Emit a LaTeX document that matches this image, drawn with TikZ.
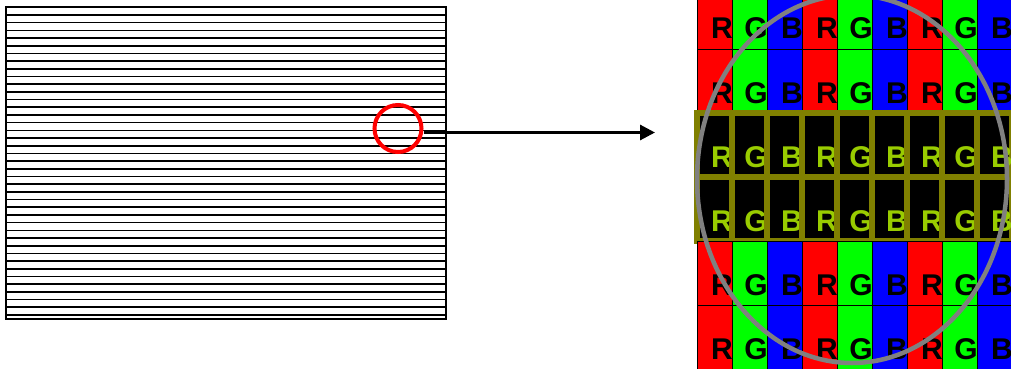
\documentclass[tikz,border=0pt]{standalone}
\usepackage{fontspec}
\setmainfont{Liberation Sans}
\usetikzlibrary{%
  arrows.meta,
}
\definecolor{olivebar}{RGB}{128,128,0}
\definecolor{limetext}{RGB}{153,204,0}

\begin{document}
\begin{tikzpicture}[
    x=1pt, y=-1pt,
    frame/.style={
      % outline of the screen
      draw=black,
      line width=2pt,
    },
    scanline/.style={
      draw=black,
      line width=1.6pt,
    },
    spot/.style={
      % the red circle that marks the zoomed place
      circle,
      minimum size=47pt,
      inner sep=0pt,
      draw=red,
      line width=4pt,
    },
    link/.style={
      -{Triangle[length=15pt,width=15pt]},
      line width=3pt,
    },
    subpixel/.style={
      draw=black,
      line width=0.8pt,
    },
    bandcell/.style={
      % the lit band: black cells, olive grid
      draw=olivebar,
      line width=6pt,
      fill=black,
    },
    letter/.style={
      font=\bfseries\fontsize{30}{30}\selectfont,
      inner sep=0pt,
      anchor=base east,
    },
    lens/.style={
      draw=black!50,
      line width=4.5pt,
    },
  ]

  \useasboundingbox (0,0) rectangle (1011,369);

  % the screen with its scan lines
  \foreach \k in {0,...,39}
    \draw[scanline] (6,{15+7.69*\k}) -- (446,{15+7.69*\k});
  \draw[frame] (6,7) rectangle (446,319);

  \node[spot] (spot) at (398,128.5) {};
  \coordinate (panel) at (655,132.5);
  \draw[link] ([yshift=-4pt]spot.east) -- (panel);

  % the magnified subpixels
  \begin{scope}
    \clip (0,0) rectangle (1011,369);
    \foreach \r in {0,...,5} {
      \foreach \c/\col/\ltr in {0/red/R,1/green/G,2/blue/B,3/red/R,4/green/G,
                                5/blue/B,6/red/R,7/green/G,8/blue/B} {
        \pgfmathsetmacro{\xl}{697+35*\c}
        \pgfmathsetmacro{\yt}{-15+64*\r}
        \ifnum\r=2 \def\lit{1}\else\ifnum\r=3 \def\lit{1}\else\def\lit{0}\fi\fi
        \ifnum\lit=1
          \draw[bandcell] (\xl,\yt) rectangle ++(35,64);
          \node[letter, text=limetext] (l-\r-\c) at (\xl+36,\yt+54) {\ltr};
        \else
          \draw[subpixel, fill=\col] (\xl,\yt) rectangle ++(35,64);
          \node[letter, text=black] (l-\r-\c) at (\xl+36,\yt+54) {\ltr};
        \fi
      }
    }
    \draw[lens] (852,179) ellipse [x radius=155pt, y radius=184pt];
  \end{scope}
\end{tikzpicture}
\end{document}
